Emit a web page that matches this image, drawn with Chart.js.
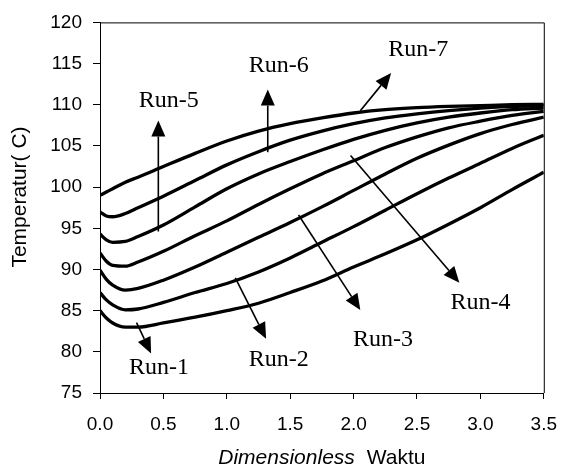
<!DOCTYPE html>
<html><head><meta charset="utf-8">
<script src="https://cdn.jsdelivr.net/npm/chart.js@4"></script>
<style>html,body{margin:0;padding:0;background:#fff;} canvas{display:block;}</style>
</head><body>
<canvas id="c" width="571" height="470"></canvas>
<script>
// ---- data ----
const timeValues = [0, 0.05, 0.1, 0.2, 0.3, 0.5, 0.75, 1.0, 1.25, 1.5, 1.75, 2.0, 2.25, 2.5, 2.75, 3.0, 3.25, 3.5];
const run1 = [85.0, 84.1, 83.5, 83.0, 83.0, 83.5, 84.2, 85.0, 85.9, 87.2, 88.6, 90.3, 91.9, 93.6, 95.5, 97.5, 99.7, 101.8];
const run2 = [87.2, 86.3, 85.7, 85.1, 85.2, 86.0, 87.2, 88.3, 89.7, 91.4, 93.3, 95.2, 97.2, 99.2, 101.1, 102.9, 104.7, 106.3];
const run3 = [89.9, 88.8, 88.1, 87.5, 87.7, 88.7, 90.3, 92.1, 93.9, 95.7, 97.6, 99.6, 101.6, 103.5, 105.1, 106.5, 107.6, 108.5];
const run4 = [92.0, 91.0, 90.5, 90.4, 90.9, 92.2, 94.1, 95.9, 97.9, 99.8, 101.6, 103.2, 104.8, 106.1, 107.2, 108.0, 108.7, 109.2];
const run5 = [94.3, 93.6, 93.3, 93.4, 94.0, 95.4, 97.6, 99.8, 101.6, 103.1, 104.5, 105.8, 106.9, 107.8, 108.5, 109.0, 109.4, 109.6];
const run6 = [97.0, 96.5, 96.4, 96.8, 97.5, 98.9, 100.8, 102.7, 104.3, 105.7, 106.8, 107.7, 108.4, 108.9, 109.3, 109.6, 109.8, 109.9];
const run7 = [99.0, 99.4, 99.8, 100.6, 101.2, 102.5, 104.1, 105.6, 106.8, 107.7, 108.4, 109.0, 109.4, 109.65, 109.8, 109.9, 110.0, 110.05];
const seriesNames = ['Run-1', 'Run-2', 'Run-3', 'Run-4', 'Run-5', 'Run-6', 'Run-7'];
const seriesValues = [run1, run2, run3, run4, run5, run6, run7];

const xTickValues = [0, 0.5, 1.0, 1.5, 2.0, 2.5, 3.0, 3.5];
const yTickValues = [75, 80, 85, 90, 95, 100, 105, 110, 115, 120];

const xTitleItalic = 'Dimensionless';
const xTitleNormal = 'Waktu';
const yTitle = 'Temperatur( C)';

// annotation labels (data coordinates)
const labelText = ['Run-1', 'Run-2', 'Run-3', 'Run-4', 'Run-5', 'Run-6', 'Run-7'];
const labelX = [0.465, 1.41, 2.232, 3.001, 0.542, 1.41, 2.509];
const labelY = [78.13, 79.09, 81.50, 85.95, 110.50, 114.71, 116.63];
// annotation arrows (data coordinates)
const arrowFromX = [0.288, 1.067, 1.566, 1.976, 0.460, 1.323, 2.053];
const arrowFromY = [83.54, 88.99, 96.62, 103.84, 94.61, 104.24, 109.26];
const arrowToX = [0.403, 1.310, 2.053, 2.834, 0.460, 1.323, 2.296];
const arrowToY = [79.81, 81.58, 85.07, 88.39, 108.09, 111.85, 113.86];

// ---- chart ----
const datasets = seriesNames.map((name, i) => ({
  label: name,
  data: timeValues.map((t, j) => ({x: t, y: seriesValues[i][j]})),
  borderColor: '#000',
  backgroundColor: '#000',
  borderWidth: 3.3,
  pointRadius: 0,
  fill: false,
  cubicInterpolationMode: 'monotone'
}));

const tickFont = {family: '"Liberation Sans", Arial, sans-serif', size: 19};

const annotate = {
  id: 'annotate',
  afterDraw(chart) {
    const ctx = chart.ctx;
    const xs = chart.scales.x, ys = chart.scales.y;
    const a = chart.chartArea;
    ctx.save();
    // box top/right
    ctx.strokeStyle = '#000';
    ctx.lineWidth = 1;
    ctx.beginPath();
    ctx.moveTo(a.left, a.top + 0.5);
    ctx.lineTo(a.right + 0.5, a.top + 0.5);
    ctx.lineTo(a.right + 0.5, a.bottom);
    ctx.stroke();
    // arrows
    for (let i = 0; i < arrowFromX.length; i++) {
      const x1 = xs.getPixelForValue(arrowFromX[i]);
      const y1 = ys.getPixelForValue(arrowFromY[i]);
      const x2 = xs.getPixelForValue(arrowToX[i]);
      const y2 = ys.getPixelForValue(arrowToY[i]);
      const ang = Math.atan2(y2 - y1, x2 - x1);
      const hl = 16, hw = 7;
      const bx = x2 - hl * Math.cos(ang), by = y2 - hl * Math.sin(ang);
      ctx.lineWidth = 1.6;
      ctx.beginPath();
      ctx.moveTo(x1, y1);
      ctx.lineTo(bx, by);
      ctx.stroke();
      ctx.fillStyle = '#000';
      ctx.beginPath();
      ctx.moveTo(x2, y2);
      ctx.lineTo(bx + hw * Math.sin(ang), by - hw * Math.cos(ang));
      ctx.lineTo(bx - hw * Math.sin(ang), by + hw * Math.cos(ang));
      ctx.closePath();
      ctx.fill();
    }
    // labels
    ctx.fillStyle = '#000';
    ctx.font = '24px "Liberation Serif", "Times New Roman", serif';
    ctx.textAlign = 'center';
    ctx.textBaseline = 'middle';
    for (let i = 0; i < labelText.length; i++) {
      ctx.fillText(labelText[i], xs.getPixelForValue(labelX[i]), ys.getPixelForValue(labelY[i]));
    }
    // x title
    ctx.textAlign = 'left';
    const italicFont = 'italic 21px "Liberation Sans", Arial, sans-serif';
    const normalFont = '21px "Liberation Sans", Arial, sans-serif';
    ctx.font = italicFont;
    const w1 = ctx.measureText(xTitleItalic).width;
    ctx.font = normalFont;
    const w2 = ctx.measureText(xTitleNormal).width;
    const gap = 12;
    const total = w1 + gap + w2;
    const cx = (a.left + a.right) / 2;
    const ty = 458;
    ctx.font = italicFont;
    ctx.fillText(xTitleItalic, cx - total / 2, ty);
    ctx.font = normalFont;
    ctx.fillText(xTitleNormal, cx - total / 2 + w1 + gap, ty);
    // y title
    ctx.save();
    ctx.translate(20, 197);
    ctx.rotate(-Math.PI / 2);
    ctx.textAlign = 'center';
    ctx.font = normalFont;
    ctx.fillText(yTitle, 0, 0);
    ctx.restore();
    ctx.restore();
  }
};

new Chart(document.getElementById('c'), {
  type: 'line',
  data: {datasets},
  options: {
    responsive: false,
    animation: false,
    devicePixelRatio: 1,
    layout: {padding: {top: 19, right: 16, left: 0, bottom: 0}},
    plugins: {legend: {display: false}, tooltip: {enabled: false}},
    scales: {
      x: {
        type: 'linear',
        min: 0, max: 3.5,
        afterFit(s) { s.height = 77; },
        afterBuildTicks(s) { s.ticks = xTickValues.map(v => ({value: v})); },
        ticks: {color: '#000', font: tickFont, padding: 14, maxRotation: 0,
          callback: v => Number(v).toFixed(1)},
        grid: {display: true, drawOnChartArea: false, drawTicks: true, tickLength: 6, color: '#000', lineWidth: 1},
        border: {display: true, color: '#000', width: 1},
        title: {display: false}
      },
      y: {
        type: 'linear',
        min: 75, max: 120,
        afterFit(s) { s.width = 100; },
        afterBuildTicks(s) { s.ticks = yTickValues.map(v => ({value: v})); },
        ticks: {color: '#000', font: tickFont, padding: 11, callback: v => String(v)},
        grid: {display: true, drawOnChartArea: false, drawTicks: true, tickLength: 7, color: '#000', lineWidth: 1},
        border: {display: true, color: '#000', width: 1},
        title: {display: false}
      }
    }
  },
  plugins: [annotate]
});
</script>
</body></html>
